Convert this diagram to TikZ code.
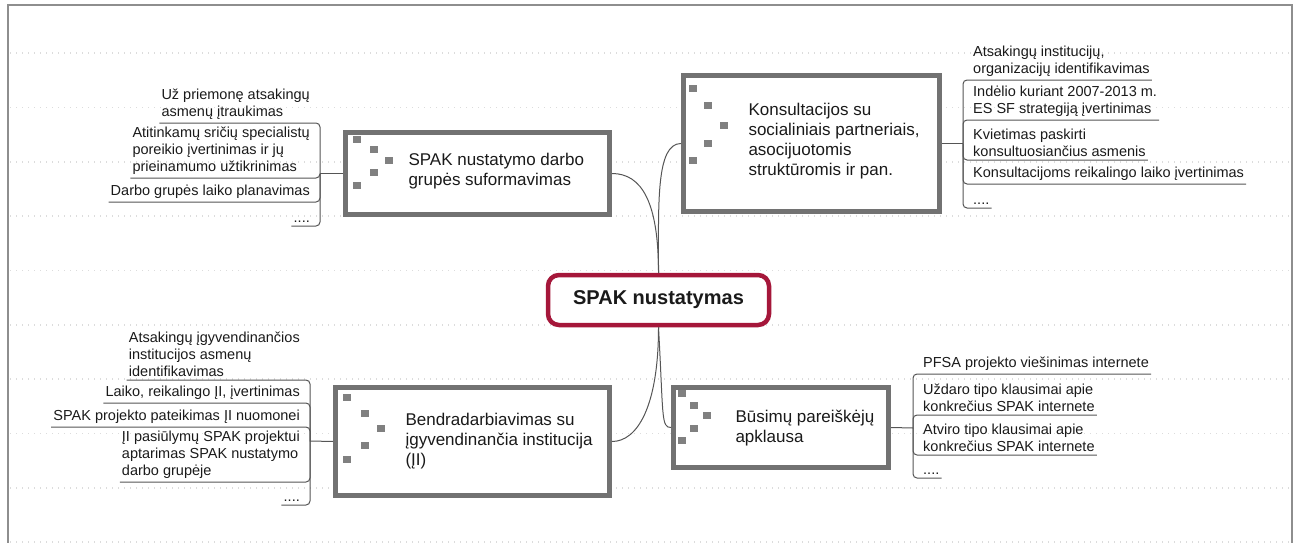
\documentclass[tikz,border=0pt]{standalone}
\usepackage{fontspec}
\setmainfont{Liberation Sans}
\usetikzlibrary{calc}
\definecolor{boxgray}{HTML}{727272}
\definecolor{rootred}{HTML}{A5173A}
\definecolor{wire}{HTML}{555555}
\definecolor{dotgray}{HTML}{DCDCDC}
\definecolor{ink}{HTML}{1A1A1A}

\begin{document}
\begin{tikzpicture}[x=1pt,y=-1pt,font=\fontsize{14.5}{17}\selectfont,text=ink,
  mainbox/.style={draw=boxgray,line width=5pt,fill=white},
  caption/.style={anchor=west,align=left,font=\fontsize{17}{20}\selectfont},
  leafl/.style={anchor=south east,align=left,inner xsep=2pt,inner ysep=3pt},
  leafr/.style={anchor=south west,align=left,inner xsep=2pt,inner ysep=3pt},
  link/.style={draw=wire,line width=1pt},
  sq/.style={fill=boxgray!90}]
  \useasboundingbox (0,0) rectangle (1298,543);
  % frame and dotted rules
  \foreach \i in {0,...,9}{\draw[dotgray,line width=1.6pt,dash pattern=on 1.4pt off 4.6pt] (10,{53+54.35*\i})--(1290,{53+54.35*\i});}
  \draw[boxgray!80,line width=1.2pt] (8,543)--(8,5)--(1292,5)--(1292,543);
  % root
  \node[draw=rootred,line width=4.5pt,rounded corners=11pt,fill=white,minimum width=221pt,minimum height=50pt,font=\bfseries\fontsize{20}{24}\selectfont] (root) at (658.5,300) {SPAK nustatymas};
  % work group
  \node[mainbox,minimum width=264pt,minimum height=82pt] (tlbox) at (477.5,173.5) {};
  \foreach \x/\y in {357/139,374/149,389/160,374/172,357/185}{\fill[sq] (\x-4,\y-3.5) rectangle ++(8,7);}
  \node[caption] (tlcap) at (405,171) {SPAK nustatymo darbo\\grupės suformavimas};
  \coordinate (tlj) at (320,173.5);
  \node[leafl] (tl1) at (312,123) {Už priemonę atsakingų\\asmenų įtraukimas};
  \node[leafl] (tl2) at (312,178) {Atitinkamų sričių specialistų\\poreikio įvertinimas ir jų\\prieinamumo užtikrinimas};
  \node[leafl] (tl3) at (312,202) {Darbo grupės laiko planavimas};
  \node[leafl] (tl4) at (312,226) {....};
  \draw[link] (tlbox.west)--(tlj);
  \foreach \n in {tl1,tl2,tl3,tl4}{\draw[link,rounded corners=4pt] (\n.south west)--(\n.south west -| tlj)--(tlj);}
  \draw[link] (tlbox.east) .. controls +(30,0) and +(0,-70) .. (root.north);
  % consultations
  \node[mainbox,minimum width=256pt,minimum height=136pt] (trbox) at (811.5,143.5) {};
  \foreach \x/\y in {693/88,708/105,724/125,708/143,693/160}{\fill[sq] (\x-4,\y-3.5) rectangle ++(8,7);}
  \node[caption] (trcap) at (745,141) {Konsultacijos su\\socialiniais partneriais,\\asocijuotomis\\struktūromis ir pan.};
  \coordinate (trj) at (963,143.5);
  \node[leafr] (tr1) at (971,80) {Atsakingų institucijų,\\organizacijų identifikavimas};
  \node[leafr] (tr2) at (971,120) {Indėlio kuriant 2007-2013 m.\\ES SF strategiją įvertinimas};
  \node[leafr] (tr3) at (971,160) {Kvietimas paskirti\\konsultuosiančius asmenis};
  \node[leafr] (tr4) at (971,184) {Konsultacijoms reikalingo laiko įvertinimas};
  \node[leafr] (tr5) at (971,208) {....};
  \draw[link] (trbox.east)--(trj);
  \foreach \n in {tr1,tr2,tr3,tr4,tr5}{\draw[link,rounded corners=4pt] (\n.south east)--(\n.south east -| trj)--(trj);}
  \draw[link] (trbox.west) .. controls +(-25,0) and +(0,-70) .. (root.north);
  % implementing institution
  \node[mainbox,minimum width=274pt,minimum height=108pt] (blbox) at (472.5,441.5) {};
  \foreach \x/\y in {347/397,365/413,381/428,365/445,347/459}{\fill[sq] (\x-4,\y-3.5) rectangle ++(8,7);}
  \node[caption] (blcap) at (402,441) {Bendradarbiavimas su\\įgyvendinančia institucija\\(ĮI)};
  \coordinate (blj) at (310,441);
  \node[leafl] (bl1) at (302,380) {Atsakingų įgyvendinančios\\institucijos asmenų\\identifikavimas};
  \node[leafl] (bl2) at (302,403) {Laiko, reikalingo ĮI, įvertinimas};
  \node[leafl] (bl3) at (302,427) {SPAK projekto pateikimas ĮI nuomonei};
  \node[leafl] (bl4) at (302,482) {ĮI pasiūlymų SPAK projektui\\aptarimas SPAK nustatymo\\darbo grupėje};
  \node[leafl] (bl5) at (302,505) {....};
  \draw[link] (blbox.west)--(blj);
  \foreach \n in {bl1,bl2,bl3,bl4,bl5}{\draw[link,rounded corners=4pt] (\n.south west)--(\n.south west -| blj)--(blj);}
  \draw[link] (root.south) .. controls +(0,80) and +(25,0) .. (blbox.east);
  % survey
  \node[mainbox,minimum width=215pt,minimum height=80pt] (brbox) at (781,427.5) {};
  \foreach \x/\y in {682/393,694/405,707/415,694/428,682/440}{\fill[sq] (\x-4,\y-3.5) rectangle ++(8,7);}
  \node[caption] (brcap) at (732,428) {Būsimų pareiškėjų\\apklausa};
  \coordinate (brj) at (913,428);
  \node[leafr] (br1) at (921,374) {PFSA projekto viešinimas internete};
  \node[leafr] (br2) at (921,415) {Uždaro tipo klausimai apie\\konkrečius SPAK internete};
  \node[leafr] (br3) at (921,455) {Atviro tipo klausimai apie\\konkrečius SPAK internete};
  \node[leafr] (br4) at (921,478) {....};
  \draw[link] (brbox.east)--(brj);
  \foreach \n in {br1,br2,br3,br4}{\draw[link,rounded corners=4pt] (\n.south east)--(\n.south east -| brj)--(brj);}
  \draw[link] (root.south) .. controls +(5,90) and +(-10,0) .. (brbox.west);
\end{tikzpicture}
\end{document}
